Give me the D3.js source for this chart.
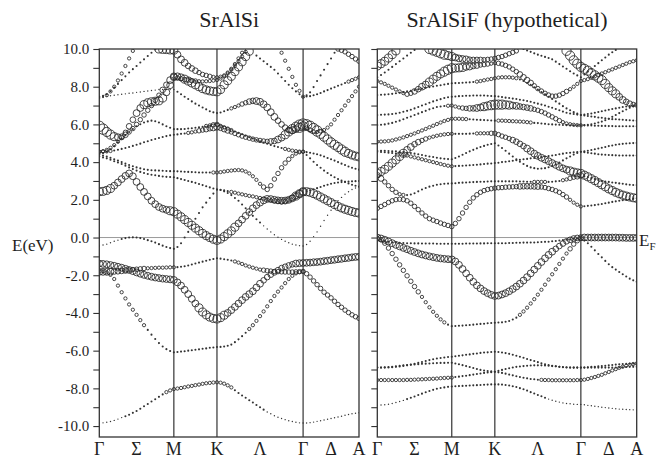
<!DOCTYPE html>
<html>
<head>
<meta charset="utf-8">
<script src="https://cdn.jsdelivr.net/npm/d3@7"></script>
<style>
  body { margin: 0; background: #fff; }
</style>
</head>
<body>
<svg id="chart" width="669" height="459"></svg>
<script>
'use strict';

const _ = null;
function gap(n) { return new Array(n).fill(null); }

// k-path sample points: Γ-M (21), M-K (12), K-Γ (24), Γ-A (16)
const kGrid = [
  0, 0.0289, 0.0577, 0.0866, 0.1154, 0.1443, 0.1731, 0.202, 0.2308, 0.2597, 0.2885,
  0.3174, 0.3462, 0.3751, 0.4039, 0.4328, 0.4616, 0.4905, 0.5193, 0.5482, 0.577,
  0.6048, 0.6326, 0.6604, 0.6882, 0.716, 0.7438, 0.7717, 0.7995, 0.8273, 0.8551, 0.8829, 0.9107,
  0.9385, 0.9663, 0.994, 1.0218, 1.0496, 1.0774, 1.1051, 1.1329, 1.1607, 1.1885, 1.2162, 1.244,
  1.2718, 1.2996, 1.3273, 1.3551, 1.3829, 1.4107, 1.4384, 1.4662, 1.494, 1.5218, 1.5495, 1.5773,
  1.6044, 1.6314, 1.6585, 1.6855, 1.7126, 1.7396, 1.7667, 1.7937,
  1.8207, 1.8477, 1.8748, 1.9018, 1.9289, 1.9559, 1.983, 2.01
];
const kTicks = [0, 0.2885, 0.577, 0.9107, 1.244, 1.5773, 1.7937, 2.01];
const kLabels = ['Γ', 'Σ', 'M', 'K', 'Λ', 'Γ', 'Δ', 'A'];
const kLines = [0.577, 0.9107, 1.5773];
const eTicks = [-10, -9, -8, -7, -6, -5, -4, -3, -2, -1, 0, 1, 2, 3, 4, 5, 6, 7, 8, 9, 10];
const panelTitles = ['SrAlSi', 'SrAlSiF (hypothetical)'];

// band energies (eV) per k point, and weight class (0-8) per k point
const srAlSi = [
  { e: [-9.84,-9.83,-9.8,-9.76,-9.7,-9.63,-9.55,-9.48,-9.4,-9.3,-9.2,-9.08,-8.95,-8.83,-8.7,-8.58,-8.45,-8.32,-8.2,-8.11,-8.04,
        -8.01,-7.98,-7.94,-7.9,-7.87,-7.83,-7.8,-7.76,-7.73,-7.71,-7.69,-7.68,
        -7.7,-7.75,-7.84,-7.95,-8.1,-8.25,-8.38,-8.5,-8.63,-8.75,-8.88,-9.0,-9.13,-9.25,-9.35,-9.45,-9.53,-9.6,-9.66,-9.72,-9.76,-9.8,-9.83,-9.84,
        -9.84,-9.82,-9.79,-9.75,-9.72,-9.68,-9.64,-9.6,-9.56,-9.52,-9.48,-9.43,-9.39,-9.35,-9.32,-9.29],
    w: '000000011111111111222 222222222222 222211111111100000000000 0000000000000000' },
  { e: [-1.8,-1.8,-1.85,-1.98,-2.2,-2.55,-2.9,-3.23,-3.55,-3.83,-4.1,-4.38,-4.65,-4.9,-5.15,-5.38,-5.6,-5.78,-5.92,-6.02,-6.09,
        -6.07,-6.05,-6.03,-6.0,-5.98,-5.95,-5.93,-5.9,-5.88,-5.85,-5.83,-5.81,
        -5.8,-5.78,-5.74,-5.68,-5.55,-5.4,-5.23,-5.05,-4.85,-4.65,-4.42,-4.17,-3.92,-3.65,-3.37,-3.1,-2.87,-2.65,-2.42,-2.2,-2.03,-1.9,-1.83,-1.8,
        -1.92,-2.1,-2.3,-2.5,-2.7,-2.9,-3.05,-3.2,-3.38,-3.55,-3.7,-3.85,-3.98,-4.1,-4.2,-4.29],
    w: '222222222222211111111 111111111111 111111112222222222222222 3333333333333333' },
  { e: [-1.38,-1.4,-1.42,-1.46,-1.5,-1.55,-1.6,-1.66,-1.72,-1.78,-1.85,-1.92,-1.98,-2.03,-2.08,-2.12,-2.15,-2.18,-2.2,-2.22,-2.25,
        -2.38,-2.55,-2.77,-3.0,-3.25,-3.5,-3.73,-3.95,-4.1,-4.22,-4.29,-4.32,
        -4.25,-4.12,-4.0,-3.85,-3.68,-3.5,-3.32,-3.15,-3.0,-2.85,-2.65,-2.45,-2.27,-2.1,-1.97,-1.85,-1.73,-1.62,-1.55,-1.48,-1.42,-1.38,-1.36,-1.35,
        -1.34,-1.33,-1.31,-1.3,-1.28,-1.25,-1.23,-1.2,-1.18,-1.15,-1.13,-1.1,-1.08,-1.05,-1.03,-1.02],
    w: '555555555555555555555 555555666666 665555555555444444444555 5555555555555555' },
  { e: [-1.82,-1.82,-1.82,-1.81,-1.8,-1.79,-1.77,-1.75,-1.72,-1.7,-1.68,-1.66,-1.64,-1.63,-1.62,-1.61,-1.6,-1.6,-1.59,-1.58,-1.58,
        -1.57,-1.55,-1.52,-1.48,-1.43,-1.38,-1.33,-1.28,-1.23,-1.18,-1.14,-1.1,
        -1.12,-1.15,-1.18,-1.22,-1.27,-1.33,-1.4,-1.48,-1.54,-1.6,-1.65,-1.7,-1.73,-1.76,-1.78,-1.8,-1.81,-1.82,-1.83,-1.83,-1.83,-1.82,-1.81,-1.8,
        ...gap(16)],
    w: '555544443333322222222 111111111111 111122222222333333333333' },
  { e: [-0.45,-0.4,-0.35,-0.28,-0.2,-0.14,-0.08,-0.03,0.0,0.01,0.0,-0.03,-0.08,-0.14,-0.2,-0.27,-0.35,-0.43,-0.5,-0.56,-0.6,
        -0.5,-0.3,0.0,0.3,0.65,1.0,1.3,1.6,1.85,2.1,2.33,2.55,
        2.52,2.45,2.36,2.25,2.1,1.95,1.75,1.55,1.35,1.15,0.97,0.8,0.62,0.45,0.3,0.15,0.02,-0.1,-0.2,-0.28,-0.35,-0.4,-0.43,-0.45,
        -0.37,-0.2,0.05,0.3,0.6,0.9,1.18,1.45,1.7,1.95,2.13,2.3,2.43,2.55,2.63,2.7],
    w: '000000111111111111111 111111111111 111111111111000000000000 0000000000000000' },
  { e: [2.43,2.45,2.5,2.6,2.75,2.92,3.1,3.27,3.4,3.25,2.95,2.68,2.42,2.18,1.95,1.77,1.62,1.53,1.47,1.42,1.37,
        1.24,1.1,0.95,0.8,0.65,0.5,0.36,0.22,0.1,0.0,-0.09,-0.15,
        -0.08,0.05,0.2,0.35,0.55,0.75,0.95,1.15,1.35,1.55,1.72,1.85,1.97,2.05,2.04,2.0,1.97,1.95,1.96,2.0,2.08,2.2,2.32,2.43,
        2.43,2.4,2.33,2.25,2.15,2.05,1.95,1.85,1.75,1.65,1.57,1.5,1.44,1.38,1.33,1.3],
    w: '666655555555555555566 666666666666 666665555555555555555666 6666666666666666' },
  { e: [4.3,4.25,4.2,4.13,4.05,3.98,3.9,3.81,3.72,3.63,3.55,3.48,3.42,3.37,3.33,3.3,3.27,3.24,3.22,3.21,3.2,
        3.15,3.1,3.05,3.0,2.95,2.9,2.84,2.78,2.72,2.66,2.6,2.55,
        2.53,2.5,2.46,2.42,2.38,2.33,2.29,2.25,2.21,2.18,2.14,2.1,2.06,2.02,1.98,1.95,1.92,1.9,1.93,2.0,2.1,2.2,2.32,2.43,
        2.46,2.5,2.56,2.62,2.68,2.75,2.8,2.85,2.89,2.92,2.94,2.96,2.97,2.98,2.99,3.0],
    w: '111111111111111111111 111111111111 111222222222222333334455 1111111111111111' },
  { e: [4.4,4.35,4.3,4.23,4.15,4.08,4.0,3.92,3.85,3.78,3.72,3.67,3.62,3.59,3.57,3.56,3.55,3.54,3.53,3.52,3.52,
        3.51,3.5,3.49,3.48,3.47,3.46,3.45,3.45,3.45,3.45,3.45,3.45,
        3.47,3.5,3.53,3.55,3.57,3.58,3.56,3.5,3.4,3.25,3.06,2.85,2.68,2.55,2.75,3.1,3.4,3.7,3.95,4.15,4.32,4.45,4.52,4.55,
        4.38,4.2,4.02,3.85,3.7,3.55,3.42,3.3,3.2,3.1,3.02,2.95,2.87,2.8,2.75,2.7],
    w: '111111111111111111111 111111111122 222222222222333333332222 1111111111111111' },
  { e: [4.55,4.56,4.57,4.59,4.62,4.66,4.7,4.75,4.8,4.86,4.92,4.98,5.05,5.11,5.17,5.23,5.28,5.33,5.38,5.42,5.45,
        5.47,5.5,5.52,5.55,5.58,5.62,5.66,5.7,5.75,5.8,5.84,5.88,
        5.82,5.75,5.68,5.6,5.52,5.45,5.38,5.32,5.27,5.22,5.18,5.15,5.12,5.1,5.1,5.12,5.2,5.3,5.45,5.6,5.75,5.88,5.96,6.02,
        5.98,5.9,5.78,5.65,5.5,5.35,5.2,5.05,4.92,4.8,4.67,4.55,4.46,4.38,4.32,4.28],
    w: '222211111111111111111 111222334455 444333333333334455667788 8888777777776666' },
  { e: [4.45,4.48,4.55,4.68,4.85,5.05,5.25,5.43,5.6,5.76,5.9,6.01,6.1,6.16,6.2,6.17,6.1,6.0,5.9,5.82,5.75,
        5.75,5.75,5.76,5.78,5.8,5.82,5.85,5.88,5.92,5.95,5.98,6.0,
        5.92,5.85,5.78,5.7,5.62,5.55,5.48,5.4,5.32,5.25,5.17,5.1,5.04,4.98,4.91,4.85,4.8,4.75,4.7,4.65,4.61,4.58,4.56,4.55,
        4.53,4.5,4.46,4.42,4.36,4.3,4.22,4.15,4.08,4.0,3.92,3.85,3.77,3.7,3.65,3.6],
    w: '111111111111111111111 111111112233 222211111111111111222222 1111111111111111' },
  { e: [5.9,5.75,5.6,5.46,5.35,5.32,5.35,5.45,5.6,5.78,6.0,6.25,6.5,6.75,7.0,7.27,7.55,7.83,8.1,8.35,8.55,
        8.55,8.5,8.4,8.3,8.2,8.1,8.0,7.9,7.83,7.78,7.75,7.73,
        7.85,8.1,8.32,8.55,8.8,9.05,9.32,9.6,9.88,...gap(15),
        ...gap(16)],
    w: '887765443333333334455 556666666666 666666666' },
  { e: [4.55,4.58,4.65,4.76,4.9,5.08,5.3,5.58,5.9,6.25,6.6,6.87,7.05,7.15,7.2,7.23,7.25,7.4,7.7,8.08,8.5,
        8.46,8.42,8.38,8.35,8.32,8.3,8.29,8.28,8.29,8.3,8.32,8.35,
        8.43,8.55,8.7,8.9,9.12,9.35,9.6,9.85,...gap(16),
        ...gap(16)],
    w: '222222334455666666555 333333222222 22222222' },
  { e: [7.4,7.45,7.55,7.75,8.0,8.33,8.7,9.1,9.5,9.9,...gap(11),
        ...gap(12), ...gap(24), ...gap(16)],
    w: '1122222222' },
  { e: [7.47,7.52,7.6,7.76,7.95,8.15,8.35,8.55,8.75,8.93,9.1,9.28,9.45,9.63,9.8,9.98,...gap(5),
        ...gap(12), ...gap(24), ...gap(16)],
    w: '' },
  { e: [...gap(16),10.0,9.98,9.97,9.95,9.94,
        9.7,9.45,9.27,9.1,8.97,8.85,8.75,8.65,8.6,8.55,8.52,8.5,
        8.53,8.6,8.75,8.95,9.2,9.5,9.8,...gap(17),
        ...gap(16)],
    w: '000000000000000066666 555444333322 2222222' },
  { e: [7.47,7.48,7.5,7.52,7.55,7.57,7.6,7.62,7.65,7.67,7.7,7.72,7.75,7.77,7.8,7.82,7.85,7.85,7.85,7.85,7.85,
        7.73,7.6,7.47,7.35,7.22,7.1,7.0,6.9,6.8,6.7,6.64,6.6,
        6.63,6.7,6.77,6.85,6.92,7.0,7.08,7.15,7.21,7.25,7.24,7.2,7.07,6.9,6.65,6.4,6.2,6.0,5.83,5.7,5.7,5.75,5.82,5.9,
        5.8,5.7,5.63,5.6,5.63,5.7,5.83,6.0,6.25,6.5,6.75,7.0,7.25,7.5,7.75,8.0],
    w: '000000000000000000000 111111111111 111222334455555544445577 3322222222222222' },
  { e: [...gap(21), ...gap(12),
        ...gap(10),9.65,9.5,9.35,9.2,9.05,8.9,8.7,8.5,8.3,8.1,7.92,7.75,7.6,7.47,
        7.55,7.7,7.98,8.3,8.6,8.9,9.2,9.5,9.8,...gap(7)],
    w: '' },
  { e: [...gap(21), ...gap(12),
        ...gap(17),9.8,9.38,8.95,8.52,8.1,7.78,7.47,
        7.48,7.5,7.55,7.6,7.67,7.75,7.82,7.9,7.97,8.05,8.12,8.2,8.27,8.35,8.42,8.5],
    w: '000000000000000000000 000000000000 000000000000000002222222 1111111111112222' },
  { e: [...gap(21), ...gap(12), ...gap(24),
        ...gap(9),10.0,9.93,9.85,9.72,9.6,9.47,9.35],
    w: '000000000000000000000 000000000000 000000000000000000000000 0000000003333333' }
];

const srAlSiF = [
  { e: [-8.89,-8.88,-8.87,-8.84,-8.8,-8.75,-8.7,-8.64,-8.57,-8.5,-8.43,-8.35,-8.28,-8.21,-8.14,-8.08,-8.02,-7.98,-7.95,-7.92,-7.9,
        -7.89,-7.88,-7.87,-7.86,-7.85,-7.84,-7.83,-7.82,-7.81,-7.8,-7.79,-7.79,
        -7.79,-7.8,-7.82,-7.85,-7.89,-7.93,-7.99,-8.05,-8.12,-8.2,-8.27,-8.35,-8.42,-8.5,-8.57,-8.63,-8.68,-8.73,-8.77,-8.8,-8.82,-8.84,-8.85,-8.85,
        -8.87,-8.9,-8.92,-8.95,-8.97,-9.0,-9.02,-9.04,-9.06,-9.08,-9.1,-9.11,-9.12,-9.13,-9.14,-9.15],
    w: '000000001111111111111 111111111111 111111111111110000000000 0000000000000000' },
  { e: [-7.56,-7.56,-7.56,-7.56,-7.56,-7.56,-7.56,-7.56,-7.55,-7.55,-7.54,-7.53,-7.52,-7.51,-7.5,-7.49,-7.48,-7.46,-7.45,-7.44,-7.43,
        -7.4,-7.38,-7.35,-7.33,-7.3,-7.27,-7.24,-7.21,-7.18,-7.16,-7.14,-7.12,
        -7.15,-7.18,-7.22,-7.27,-7.31,-7.36,-7.4,-7.44,-7.47,-7.5,-7.52,-7.54,-7.55,-7.56,-7.56,-7.57,-7.57,-7.57,-7.57,-7.57,-7.57,-7.57,-7.56,-7.56,
        -7.54,-7.5,-7.45,-7.4,-7.34,-7.28,-7.2,-7.13,-7.05,-6.98,-6.91,-6.85,-6.8,-6.75,-6.71,-6.68],
    w: '222222222222222222222 111111111111 111111111111222222222222 2222222222222222' },
  { e: [-6.9,-6.9,-6.9,-6.89,-6.88,-6.86,-6.84,-6.81,-6.78,-6.74,-6.7,-6.65,-6.6,-6.55,-6.5,-6.46,-6.42,-6.39,-6.36,-6.34,-6.32,
        -6.3,-6.27,-6.25,-6.22,-6.2,-6.17,-6.15,-6.12,-6.1,-6.09,-6.07,-6.06,
        -6.07,-6.1,-6.13,-6.17,-6.22,-6.27,-6.32,-6.38,-6.44,-6.5,-6.55,-6.61,-6.67,-6.72,-6.76,-6.8,-6.83,-6.86,-6.88,-6.89,-6.9,-6.9,-6.9,-6.9,
        -6.9,-6.9,-6.9,-6.9,-6.9,-6.9,-6.9,-6.9,-6.89,-6.89,-6.88,-6.88,-6.87,-6.86,-6.86,-6.85],
    w: '' },
  { e: [-6.9,-6.89,-6.88,-6.87,-6.85,-6.83,-6.8,-6.78,-6.76,-6.75,-6.73,-6.72,-6.7,-6.69,-6.68,-6.67,-6.66,-6.65,-6.65,-6.64,-6.64,
        -6.68,-6.72,-6.77,-6.82,-6.87,-6.92,-6.97,-7.02,-7.05,-7.08,-7.1,-7.12,
        -7.07,-7.02,-6.97,-6.93,-6.89,-6.86,-6.84,-6.82,-6.8,-6.79,-6.78,-6.78,-6.78,-6.79,-6.8,-6.82,-6.83,-6.85,-6.87,-6.88,-6.89,-6.9,-6.9,-6.9,
        -6.89,-6.88,-6.86,-6.85,-6.83,-6.82,-6.8,-6.78,-6.76,-6.74,-6.72,-6.71,-6.7,-6.69,-6.68,-6.68],
    w: '' },
  { e: [-0.05,-0.12,-0.3,-0.56,-0.85,-1.15,-1.45,-1.74,-2.03,-2.32,-2.6,-2.88,-3.15,-3.43,-3.7,-3.94,-4.15,-4.34,-4.5,-4.62,-4.7,
        -4.69,-4.68,-4.67,-4.65,-4.64,-4.62,-4.6,-4.58,-4.57,-4.55,-4.53,-4.52,
        -4.51,-4.5,-4.47,-4.43,-4.35,-4.25,-4.1,-3.92,-3.72,-3.5,-3.27,-3.03,-2.77,-2.5,-2.23,-1.95,-1.68,-1.4,-1.12,-0.85,-0.6,-0.35,-0.17,-0.05,
        -0.15,-0.3,-0.49,-0.68,-0.87,-1.05,-1.24,-1.42,-1.57,-1.7,-1.83,-1.95,-2.07,-2.18,-2.27,-2.34],
    w: '333333333333222222211 111111111111 111111222222222222223333 1111111111111111' },
  { e: [0.0,-0.05,-0.12,-0.21,-0.3,-0.39,-0.47,-0.55,-0.62,-0.7,-0.77,-0.84,-0.9,-0.95,-1.0,-1.04,-1.08,-1.11,-1.13,-1.15,-1.16,
        -1.27,-1.45,-1.67,-1.9,-2.13,-2.35,-2.54,-2.7,-2.84,-2.95,-3.04,-3.1,
        -3.08,-3.02,-2.95,-2.85,-2.73,-2.6,-2.45,-2.28,-2.1,-1.9,-1.7,-1.5,-1.3,-1.1,-0.92,-0.75,-0.6,-0.45,-0.32,-0.2,-0.12,-0.05,-0.02,0.0,
        0.0,0.0,0.0,0.0,0.0,0.0,0.0,0.0,0.0,0.0,-0.01,-0.01,-0.02,-0.02,-0.02,-0.02],
    w: '555555555555555555555 555555555555 555555555555555544444444 5555555555555555' },
  { e: [-0.05,-0.12,-0.18,-0.22,-0.25,-0.27,-0.28,-0.29,-0.3,-0.3,-0.31,-0.31,-0.32,-0.32,-0.32,-0.32,-0.33,-0.33,-0.33,-0.33,-0.33,
        -0.33,-0.33,-0.33,-0.32,-0.32,-0.32,-0.32,-0.31,-0.31,-0.3,-0.3,-0.3,
        -0.3,-0.3,-0.3,-0.29,-0.29,-0.28,-0.28,-0.27,-0.27,-0.26,-0.26,-0.25,-0.24,-0.23,-0.22,-0.2,-0.18,-0.16,-0.14,-0.12,-0.1,-0.07,-0.05,-0.03,
        ...gap(16)],
    w: '' },
  { e: [1.55,1.65,1.75,1.86,1.95,2.01,2.03,2.01,1.95,1.82,1.65,1.48,1.3,1.14,1.0,0.92,0.85,0.77,0.7,0.64,0.58,
        0.75,1.0,1.3,1.6,1.87,2.1,2.27,2.4,2.49,2.55,2.59,2.62,
        2.64,2.65,2.67,2.68,2.69,2.7,2.71,2.72,2.72,2.72,2.71,2.7,2.68,2.65,2.6,2.55,2.48,2.4,2.28,2.15,2.0,1.85,1.74,1.65,
        1.66,1.68,1.7,1.72,1.75,1.78,1.82,1.85,1.89,1.92,1.95,1.98,2.0,2.03,2.06,2.08],
    w: '333333333333333333333 333333333333 333333444444333333332222 1111111111111111' },
  { e: [3.4,3.5,3.62,3.78,3.95,4.12,4.3,4.47,4.65,4.8,4.95,5.06,5.15,5.23,5.3,5.35,5.4,5.44,5.47,5.49,5.5,
        5.5,5.5,5.5,5.5,5.51,5.52,5.52,5.53,5.53,5.53,5.53,5.53,
        5.46,5.38,5.32,5.25,5.17,5.08,4.97,4.85,4.72,4.58,4.45,4.33,4.23,4.14,4.05,3.95,3.85,3.75,3.67,3.6,3.53,3.47,3.43,3.4,
        3.31,3.22,3.12,3.02,2.91,2.8,2.69,2.58,2.49,2.4,2.32,2.25,2.2,2.15,2.11,2.08],
    w: '666666665544332222222 111111222233 333344445555555555556666 6666666666666666' },
  { e: [5.08,5.09,5.1,5.12,5.15,5.2,5.25,5.31,5.38,5.45,5.52,5.6,5.68,5.76,5.85,5.93,6.02,6.1,6.18,6.24,6.3,
        6.3,6.3,6.29,6.28,6.27,6.26,6.25,6.24,6.23,6.22,6.21,6.2,
        6.2,6.2,6.19,6.18,6.17,6.16,6.15,6.14,6.12,6.1,6.08,6.07,6.05,6.03,6.01,6.0,5.99,5.98,5.97,5.96,5.95,5.95,5.95,5.95,
        5.95,5.94,5.94,5.93,5.93,5.92,5.92,5.91,5.91,5.9,5.9,5.9,5.9,5.9,5.9,5.9],
    w: '222222222222222222222 222211111111 222222222211111111111111 1111111111111111' },
  { e: [4.6,4.6,4.6,4.59,4.58,4.57,4.55,4.53,4.5,4.48,4.45,4.42,4.38,4.34,4.3,4.27,4.23,4.2,4.18,4.16,4.15,
        4.22,4.3,4.39,4.48,4.57,4.65,4.73,4.8,4.86,4.92,4.96,5.0,
        4.88,4.75,4.6,4.45,4.3,4.15,4.02,3.9,3.8,3.72,3.68,3.65,3.66,3.68,3.73,3.8,3.88,3.98,4.09,4.2,4.3,4.4,4.48,4.55,
        4.57,4.6,4.64,4.68,4.72,4.76,4.8,4.85,4.88,4.92,4.95,4.97,4.99,5.0,5.01,5.02],
    w: '' },
  { e: [4.55,4.54,4.52,4.5,4.48,4.45,4.42,4.39,4.35,4.3,4.25,4.2,4.15,4.1,4.05,4.0,3.95,3.9,3.85,3.81,3.78,
        3.79,3.8,3.81,3.82,3.83,3.85,3.86,3.88,3.9,3.92,3.93,3.95,
        3.97,4.0,4.02,4.05,4.07,4.1,4.12,4.15,4.17,4.2,4.22,4.25,4.27,4.3,4.32,4.35,4.38,4.42,4.45,4.48,4.5,4.52,4.54,4.55,
        4.53,4.5,4.47,4.45,4.42,4.4,4.39,4.38,4.37,4.36,4.35,4.35,4.35,4.35,4.35,4.35],
    w: '111111222222222222222' },
  { e: [3.3,3.13,2.95,2.75,2.55,2.4,2.3,2.26,2.25,2.28,2.35,2.45,2.55,2.63,2.7,2.75,2.8,2.83,2.85,2.86,2.87,
        2.88,2.9,2.91,2.92,2.93,2.94,2.95,2.96,2.96,2.97,2.98,2.98,
        2.98,2.98,2.98,2.98,2.98,2.98,2.97,2.97,2.96,2.96,2.95,2.95,2.95,2.95,2.95,2.96,2.98,3.0,3.04,3.08,3.14,3.2,3.25,3.3,
        3.25,3.2,3.15,3.1,3.05,3.0,2.97,2.95,2.92,2.9,2.87,2.85,2.82,2.8,2.79,2.78],
    w: '443333221111111111111 111111111111 111111111122221111223344 1111111111111111' },
  { e: [5.97,5.98,6.0,6.04,6.08,6.14,6.2,6.27,6.35,6.42,6.5,6.57,6.65,6.72,6.8,6.86,6.92,6.95,6.98,6.99,7.0,
        6.95,6.9,6.87,6.85,6.85,6.85,6.87,6.9,6.94,6.98,7.02,7.05,
        7.05,7.05,7.04,7.02,7.0,6.98,6.95,6.92,6.89,6.85,6.8,6.75,6.68,6.6,6.5,6.4,6.3,6.2,6.12,6.05,6.01,5.98,5.96,5.95,
        5.96,5.98,6.01,6.05,6.1,6.15,6.22,6.3,6.4,6.5,6.6,6.7,6.79,6.88,6.95,7.0],
    w: '111111111111111111122 223344556677 776655444433333333222222 1111111111111111' },
  { e: [8.3,8.23,8.15,8.05,7.95,7.85,7.75,7.66,7.6,7.65,7.75,7.87,8.0,8.12,8.25,8.4,8.55,8.68,8.8,8.9,8.98,
        8.99,9.0,9.02,9.05,9.07,9.1,9.12,9.15,9.17,9.2,9.22,9.25,
        9.24,9.2,9.13,9.05,8.93,8.8,8.65,8.5,8.35,8.2,8.05,7.9,7.77,7.65,7.56,7.5,7.5,7.55,7.64,7.75,7.87,8.0,8.15,8.3,
        8.35,8.4,8.47,8.55,8.62,8.7,8.77,8.85,8.92,9.0,9.07,9.15,9.22,9.3,9.35,9.4],
    w: '222222223344556666777 666554433322 333333444433333333332222 2222222222222222' },
  { e: [9.1,9.22,9.35,9.52,9.7,9.9,...gap(15),
        ...gap(12),
        ...gap(19),9.9,9.65,9.4,9.22,9.05,
        8.95,8.85,8.72,8.6,8.48,8.35,8.15,7.95,7.78,7.62,7.46,7.3,7.2,7.1,7.06,7.03],
    w: '666666000000000000000 000000000000 000000000000000000077777 7777777666554433' },
  { e: [8.5,8.62,8.75,8.9,9.05,9.2,9.35,9.5,9.65,9.8,9.95,...gap(10),
        ...gap(12),
        ...gap(7),10.0,9.92,9.85,9.77,9.7,9.64,9.58,9.52,9.45,9.33,9.2,9.07,8.95,8.82,8.7,8.6,8.5,
        8.65,8.8,8.95,9.1,9.25,9.4,9.55,9.7,9.83,9.95,...gap(6)],
    w: '' },
  { e: [7.56,7.57,7.58,7.6,7.62,7.65,7.68,7.71,7.75,7.78,7.82,7.86,7.9,7.94,7.98,8.01,8.05,8.08,8.12,8.15,8.18,
        8.19,8.2,8.21,8.22,8.23,8.25,8.27,8.3,8.34,8.38,8.41,8.45,
        8.48,8.5,8.5,8.5,8.48,8.45,8.38,8.3,8.2,8.1,7.97,7.85,7.72,7.6,7.47,7.35,7.22,7.1,6.97,6.85,6.75,6.65,6.57,6.5,
        6.47,6.45,6.42,6.4,6.37,6.35,6.32,6.3,6.28,6.27,6.26,6.25,6.23,6.22,6.21,6.2],
    w: '111111111111111111111 111111222222 222222111111111111111111 1111111111111111' },
  { e: [6.5,6.51,6.52,6.53,6.55,6.58,6.62,6.67,6.72,6.78,6.85,6.92,7.0,7.07,7.15,7.22,7.28,7.34,7.4,7.44,7.47,
        7.48,7.5,7.51,7.52,7.52,7.53,7.53,7.53,7.53,7.52,7.51,7.5,
        7.48,7.45,7.42,7.4,7.37,7.35,7.31,7.28,7.24,7.2,7.15,7.1,7.05,7.0,6.94,6.88,6.82,6.75,6.68,6.62,6.58,6.55,6.52,6.5,
        6.52,6.55,6.58,6.62,6.66,6.7,6.74,6.78,6.82,6.85,6.88,6.92,6.95,6.98,7.0,7.02],
    w: '' },
  { e: [...gap(14),10.0,9.92,9.85,9.77,9.7,9.65,9.6,
        9.55,9.5,9.47,9.45,9.43,9.42,9.42,9.42,9.43,9.45,9.47,9.5,
        9.55,9.6,9.67,9.75,9.82,9.9,...gap(18),
        ...gap(16)],
    w: '000000000000007777766 555544443333 333333' }
];

const FONT = '"Liberation Serif", "Times New Roman", Times, "DejaVu Serif", serif';
const svg = d3.select('#chart');
const yTop = 49, yBottom = 437;
const y = d3.scaleLinear().domain([-10.58, 10]).range([yBottom, yTop]);
const rScale = d3.scaleLinear().domain([0, 1, 8]).range([0.7, 1.05, 5.2]);
const ink = '#262626';

const panels = [
  { x0: 99.3, x1: 359, title: panelTitles[0], bands: srAlSi, labels: true },
  { x0: 377.3, x1: 636.7, title: panelTitles[1], bands: srAlSiF, labels: false }
];

function label(sel, size) {
  return sel.style('font-family', FONT).style('font-size', size + 'px').attr('fill', '#1e1e1e');
}

panels.forEach(function (p, pi) {
  const x = d3.scaleLinear().domain([0, 2.01]).range([p.x0, p.x1]);
  const g = svg.append('g');

  svg.append('clipPath').attr('id', 'clip' + pi)
    .append('rect')
    .attr('x', p.x0).attr('y', yTop)
    .attr('width', p.x1 - p.x0).attr('height', yBottom - yTop);

  // Fermi level
  g.append('line')
    .attr('x1', p.x0).attr('x2', p.x1)
    .attr('y1', y(0)).attr('y2', y(0))
    .attr('stroke', '#9a9a9a').attr('stroke-width', 1);

  const dots = g.append('g').attr('clip-path', 'url(#clip' + pi + ')');
  p.bands.forEach(function (b) {
    const w = b.w.replace(/\s/g, '');
    const pts = kGrid.map(function (k, i) {
      return { k: k, e: b.e[i], w: w[i] === undefined ? 1 : +w[i] };
    }).filter(function (d) { return d.e !== null && d.e !== undefined; });
    dots.append('g').selectAll('circle')
      .data(pts)
      .enter()
      .append('circle')
      .attr('cx', function (d) { return x(d.k); })
      .attr('cy', function (d) { return y(d.e); })
      .attr('r', function (d) { return rScale(d.w); })
      .attr('fill', function (d) { return d.w <= 1 ? '#333' : 'none'; })
      .attr('stroke', function (d) { return d.w <= 1 ? 'none' : ink; })
      .attr('stroke-width', 0.85);
  });

  // symmetry lines
  g.selectAll('.sym')
    .data(kLines)
    .enter()
    .append('line')
    .attr('x1', function (d) { return x(d); })
    .attr('x2', function (d) { return x(d); })
    .attr('y1', yTop).attr('y2', yBottom)
    .attr('stroke', '#333').attr('stroke-width', 1.2);

  g.append('rect')
    .attr('x', p.x0).attr('y', yTop)
    .attr('width', p.x1 - p.x0).attr('height', yBottom - yTop)
    .attr('fill', 'none').attr('stroke', '#333').attr('stroke-width', 1.3);

  const axis = d3.axisLeft(y)
    .tickValues(eTicks)
    .tickSize(6)
    .tickPadding(4)
    .tickFormat(function (d) { return p.labels && d % 2 === 0 ? d.toFixed(1) : ''; });
  const ag = svg.append('g')
    .attr('transform', 'translate(' + p.x0 + ',0)')
    .call(axis);
  ag.select('.domain').remove();
  ag.selectAll('line').attr('stroke', '#333').attr('stroke-width', 1.1);
  label(ag.selectAll('text'), 15);

  label(g.selectAll('.klab')
    .data(kTicks)
    .enter()
    .append('text')
    .attr('x', function (d) { return x(d); })
    .attr('y', 455)
    .attr('text-anchor', 'middle')
    .text(function (d, i) { return kLabels[i]; }), 18);

  label(g.append('text')
    .attr('x', (p.x0 + p.x1) / 2)
    .attr('y', 27)
    .attr('text-anchor', 'middle')
    .text(p.title), 22);
});

label(svg.append('text')
  .attr('x', 12).attr('y', 251)
  .text('E(eV)'), 17);

const ef = label(svg.append('text')
  .attr('x', 639).attr('y', 246)
  .text('E'), 17);
ef.append('tspan')
  .attr('dy', 4)
  .style('font-size', '11px')
  .text('F');
</script>
</body>
</html>
